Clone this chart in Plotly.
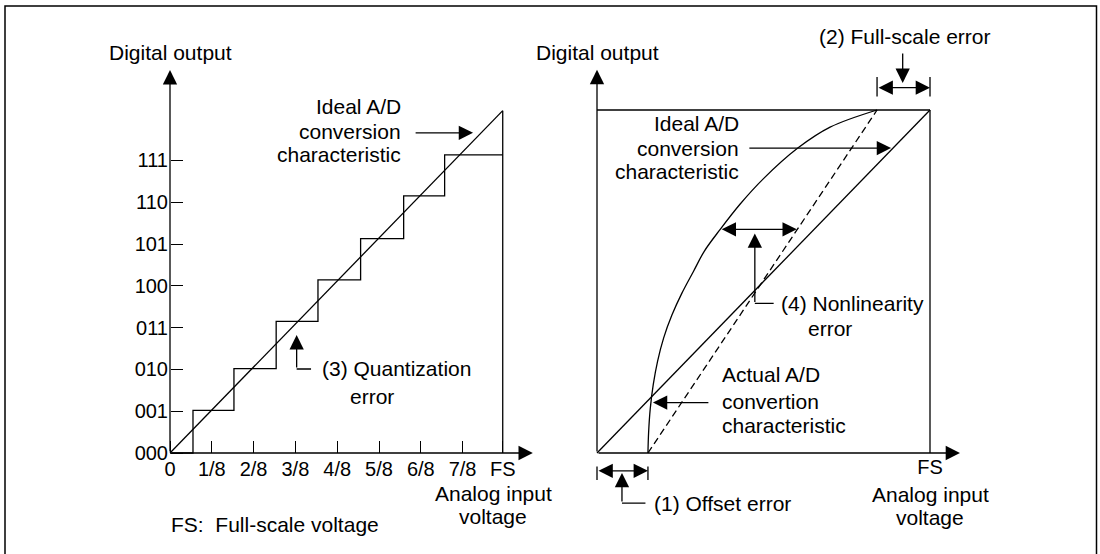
import plotly.graph_objects as go

W, H = 1100, 554

# ---------------- data ----------------
# left panel: ideal 3-bit A/D conversion
code_labels = ["000", "001", "010", "011", "100", "101", "110", "111"]
code_values = [0, 1, 2, 3, 4, 5, 6, 7]
input_labels = ["0", "1/8", "2/8", "3/8", "4/8", "5/8", "6/8", "7/8", "FS"]
input_values = [0, 1, 2, 3, 4, 5, 6, 7, 7.96]
step_x = [0, 0.55, 1.53, 2.54, 3.54, 4.56, 5.59, 6.57, 7.96]
step_y = [0, 1.02, 2.02, 3.15, 4.14, 5.13, 6.15, 7.13, 7.13]
ideal_left_x = [0, 7.96]
ideal_left_y = [0, 8.19]
fs_left_x = [7.96, 7.96]
fs_left_y = [0, 8.19]

# right panel: errors (normalised to full scale)
ideal_right_x = [0, 1]
ideal_right_y = [0, 1]
actual_x = [0.153, 0.155, 0.160, 0.169, 0.182, 0.200, 0.225, 0.255, 0.290, 0.322,
            0.370, 0.430, 0.500, 0.603, 0.700, 0.841]
actual_y = [0.000, 0.060, 0.130, 0.200, 0.268, 0.335, 0.402, 0.466, 0.530, 0.588,
            0.652, 0.726, 0.800, 0.889, 0.950, 1.000]
shifted_x = [0.153, 0.841]
shifted_y = [0, 1]
box_top_x = [0, 1]
box_top_y = [1, 1]
box_right_x = [1, 1]
box_right_y = [0, 1]
right_tick_values = [1]
right_tick_labels = ["FS"]

# ---------------- geometry ----------------
FONT = "Liberation Sans, Arial, sans-serif"
FS_TXT = 21
FS_TICK = 20
LW = 1.3
AS = 2.2

L_PX0, L_PY0, L_K = 170, 453, 41.8
L_XR, L_YR = [-0.3, 9.0], [-2.2, 9.9]
R_PX0, R_PY0, R_KX, R_KY = 597, 453, 333, 343
R_XR, R_YR = [-0.1, 1.2], [-0.25, 1.3]


def dom_x(px0, k, r):
    return [(px0 + r[0] * k) / W, (px0 + r[1] * k) / W]


def dom_y(py0, k, r):
    return [1 - (py0 - r[0] * k) / H, 1 - (py0 - r[1] * k) / H]


fig = go.Figure()

line = dict(color="black", width=LW)


def add_line(x, y, xa, ya, **kw):
    fig.add_trace(go.Scatter(x=x, y=y, mode="lines", line={**line, **kw.pop("line", {})},
                             xaxis=xa, yaxis=ya, hoverinfo="skip", showlegend=False, **kw))


# left panel traces
add_line(step_x, step_y, "x", "y", line_shape="hv")
add_line(ideal_left_x, ideal_left_y, "x", "y")
add_line(fs_left_x, fs_left_y, "x", "y")

# right panel traces
add_line(box_top_x, box_top_y, "x2", "y2")
add_line(box_right_x, box_right_y, "x2", "y2")
add_line(ideal_right_x, ideal_right_y, "x2", "y2")
add_line(shifted_x, shifted_y, "x2", "y2", line=dict(dash="7px,4px"))
add_line(actual_x, actual_y, "x2", "y2", line_shape="spline")

annotations = []


def arrow(xr, yr, tail, tip, head=2, both=False, size=AS):
    annotations.append(dict(
        x=tip[0], y=tip[1], ax=tail[0], ay=tail[1], xref=xr, yref=yr, axref=xr, ayref=yr,
        text="", showarrow=True, arrowhead=head, arrowsize=size, arrowwidth=LW,
        arrowcolor="black", standoff=0, startstandoff=0,
        arrowside="end+start" if both else "end", startarrowhead=head, startarrowsize=size))


def seg(xr, yr, a, b):
    arrow(xr, yr, a, b, head=0)


def txt(xr, yr, x, y, s, anchor="center"):
    annotations.append(dict(x=x, y=y, xref=xr, yref=yr, text=s, showarrow=False,
                            xanchor=anchor, yanchor="middle",
                            font=dict(family=FONT, size=FS_TXT, color="black")))


# ----- left panel decorations -----
arrow("x", "y", (0, 0), (8.68, 0))
arrow("x", "y", (0, 0), (0, 9.16))
txt("x", "y", 0, 9.58, "Digital output")
txt("x", "y", 5.57, 8.29, "Ideal A/D", "right")
txt("x", "y", 5.57, 7.70, "conversion", "right")
txt("x", "y", 5.57, 7.13, "characteristic", "right")
arrow("x", "y", (5.84, 7.66), (7.25, 7.66))
seg("x", "y", (3.41, 2.01), (3.03, 2.01))
arrow("x", "y", (3.03, 2.01), (3.03, 2.82))
txt("x", "y", 3.59, 2.01, "(3) Quantization", "left")
txt("x", "y", 4.83, 1.36, "error")
txt("x", "y", 7.73, -0.98, "Analog input")
txt("x", "y", 7.73, -1.53, "voltage")
txt("x", "y", -0.03, -1.72, "FS:  Full-scale voltage", "left")

# ----- right panel decorations -----
arrow("x2", "y2", (0, 0), (1.09, 0))
arrow("x2", "y2", (0, 0), (0, 1.117))
txt("x2", "y2", 0, 1.167, "Digital output")
txt("x2", "y2", 0.925, 1.214, "(2) Full-scale error")
seg("x2", "y2", (0.841, 1.035), (0.841, 1.096))
seg("x2", "y2", (1.0, 1.035), (1.0, 1.096))
arrow("x2", "y2", (0.841, 1.065), (1.0, 1.065), both=True)
arrow("x2", "y2", (0.918, 1.169), (0.918, 1.079))
txt("x2", "y2", 0.432, 0.961, "Ideal A/D", "right")
txt("x2", "y2", 0.432, 0.889, "conversion", "right")
txt("x2", "y2", 0.432, 0.820, "characteristic", "right")
arrow("x2", "y2", (0.453, 0.889), (0.883, 0.889))
arrow("x2", "y2", (0.370, 0.652), (0.600, 0.652), both=True)
seg("x2", "y2", (0.535, 0.436), (0.474, 0.436))
arrow("x2", "y2", (0.474, 0.436), (0.474, 0.640))
txt("x2", "y2", 0.548, 0.436, "(4) Nonlinearity", "left")
txt("x2", "y2", 0.701, 0.364, "error")
txt("x2", "y2", 0.369, 0.228, "Actual A/D", "left")
txt("x2", "y2", 0.369, 0.149, "convertion", "left")
txt("x2", "y2", 0.369, 0.080, "characteristic", "left")
arrow("x2", "y2", (0.339, 0.147), (0.168, 0.147))
seg("x2", "y2", (0, -0.035), (0, -0.079))
seg("x2", "y2", (0.153, -0.035), (0.153, -0.079))
arrow("x2", "y2", (0, -0.052), (0.153, -0.052), both=True)
seg("x2", "y2", (0.150, -0.146), (0.075, -0.146))
arrow("x2", "y2", (0.075, -0.146), (0.075, -0.058))
txt("x2", "y2", 0.165, -0.146, "(1) Offset error", "left")
txt("x2", "y2", 1.0, -0.120, "Analog input")
txt("x2", "y2", 1.0, -0.187, "voltage")

tickfont = dict(family=FONT, size=FS_TICK, color="black")
common = dict(showgrid=False, zeroline=False, showline=False, fixedrange=True)

fig.update_layout(
    width=W, height=H, margin=dict(l=0, r=0, t=0, b=0),
    paper_bgcolor="white", plot_bgcolor="white",
    font=dict(family=FONT, size=FS_TXT, color="black"),
    xaxis=dict(domain=dom_x(L_PX0, L_K, L_XR), range=L_XR, anchor="free",
               position=1 - L_PY0 / H, tickvals=input_values, ticktext=input_labels,
               ticks="inside", ticklen=12, tickwidth=LW, tickcolor="black",
               ticklabelstandoff=2, tickfont=tickfont, **common),
    yaxis=dict(domain=dom_y(L_PY0, L_K, L_YR), range=L_YR, anchor="free",
               position=L_PX0 / W, tickvals=code_values, ticktext=code_labels,
               ticks="inside", ticklen=12, tickwidth=LW, tickcolor="black",
               ticklabelstandoff=2, tickfont=tickfont, **common),
    xaxis2=dict(domain=dom_x(R_PX0, R_KX, R_XR), range=R_XR, anchor="free",
                position=1 - R_PY0 / H, tickvals=right_tick_values,
                ticktext=right_tick_labels, ticks="", tickfont=tickfont, **common),
    yaxis2=dict(domain=dom_y(R_PY0, R_KY, R_YR), range=R_YR, anchor="free",
                position=R_PX0 / W, showticklabels=False, ticks="", **common),
    annotations=annotations,
    shapes=[dict(type="rect", xref="paper", yref="paper", x0=5 / W, x1=1096.5 / W,
                 y0=-0.05, y1=1 - 6 / H, line=dict(color="black", width=1.5))],
)

fig.write_html("out.html", config={"displayModeBar": False},
               post_script="document.body.style.margin='0px';")
